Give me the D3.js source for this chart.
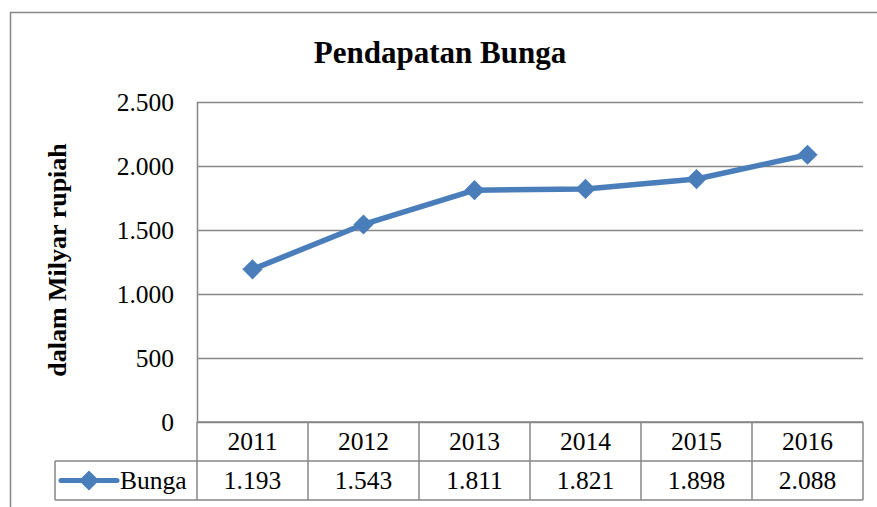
<!DOCTYPE html>
<html>
<head>
<meta charset="utf-8">
<script src="https://cdn.jsdelivr.net/npm/d3@7"></script>
<style>
  body { margin: 0; background: #fff; }
  text { font-family: "Liberation Serif", "Times New Roman", serif; fill: #000; }
</style>
</head>
<body>
<div id="chart"></div>
<script>
let width = 877;
let height = 507;

// data
let years = ["2011", "2012", "2013", "2014", "2015", "2016"];
let bunga = [1193, 1543, 1811, 1821, 1898, 2088];
let yTicks = [0, 500, 1000, 1500, 2000, 2500];
let seriesName = "Bunga";

let plot = {left: 197, right: 863, top: 102, bottom: 422};
let rowH = 39;
let lineColor = "#4a7ebb";
let gridColor = "#878787";

let fmt = d3.formatLocale({decimal: ",", thousands: ".", grouping: [3], currency: ["", ""]}).format(",");

let svg = d3.select("#chart").append("svg")
    .attr("width", width)
    .attr("height", height);

// outer chart frame (runs off right/bottom edge like the source)
svg.append("rect")
    .attr("x", 10.5).attr("y", 12.5)
    .attr("width", 900).attr("height", 520)
    .attr("fill", "none")
    .attr("stroke", gridColor)
    .attr("stroke-width", 1.5);

let x = d3.scaleBand()
    .domain(years)
    .range([plot.left, plot.right]);

let y = d3.scaleLinear()
    .domain([0, 2500])
    .range([plot.bottom, plot.top]);

// gridlines
svg.append("g")
    .selectAll("line")
    .data(yTicks)
    .join("line")
    .attr("x1", plot.left).attr("x2", plot.right)
    .attr("y1", d => Math.round(y(d)) + 0.5)
    .attr("y2", d => Math.round(y(d)) + 0.5)
    .attr("stroke", gridColor)
    .attr("stroke-width", 1.5);

// y axis line
svg.append("line")
    .attr("x1", plot.left + 0.5).attr("x2", plot.left + 0.5)
    .attr("y1", plot.top).attr("y2", plot.bottom)
    .attr("stroke", gridColor)
    .attr("stroke-width", 1.5);

// y tick labels
svg.append("g")
    .selectAll("text")
    .data(yTicks)
    .join("text")
    .attr("x", 174)
    .attr("y", d => y(d))
    .attr("dy", "0.35em")
    .attr("text-anchor", "end")
    .attr("font-size", 25.5)
    .text(d => fmt(d));

// title
svg.append("text")
    .attr("x", 440)
    .attr("y", 63)
    .attr("text-anchor", "middle")
    .attr("font-size", 31)
    .attr("font-weight", "bold")
    .text("Pendapatan Bunga");

// y axis title
svg.append("text")
    .attr("transform", "translate(66,260) rotate(-90)")
    .attr("text-anchor", "middle")
    .attr("font-size", 26)
    .attr("font-weight", "bold")
    .text("dalam Milyar rupiah");

// data table
let table = svg.append("g");
let tableLeft = 55;
let row1 = plot.bottom, row2 = plot.bottom + rowH, row3 = plot.bottom + 2 * rowH;

table.append("path")
    .attr("d", [
        `M${plot.left},${row1}H${plot.right}`,
        `M${tableLeft},${row2}H${plot.right}`,
        `M${tableLeft},${row3}H${plot.right}`,
        `M${tableLeft},${row2}V${row3}`,
        `M${plot.left},${row1}V${row3}`
    ].join(""))
    .attr("fill", "none")
    .attr("stroke", gridColor)
    .attr("stroke-width", 1.5);

table.selectAll(".col")
    .data(years)
    .join("line")
    .attr("class", "col")
    .attr("x1", d => x(d) + x.bandwidth())
    .attr("x2", d => x(d) + x.bandwidth())
    .attr("y1", row1).attr("y2", row3)
    .attr("stroke", gridColor)
    .attr("stroke-width", 1.5);

table.selectAll(".yr")
    .data(years)
    .join("text")
    .attr("class", "yr")
    .attr("x", d => x(d) + x.bandwidth() / 2)
    .attr("y", (row1 + row2) / 2)
    .attr("dy", "0.35em")
    .attr("text-anchor", "middle")
    .attr("font-size", 25.5)
    .text(d => d);

table.selectAll(".val")
    .data(bunga)
    .join("text")
    .attr("class", "val")
    .attr("x", (d, i) => x(years[i]) + x.bandwidth() / 2)
    .attr("y", (row2 + row3) / 2)
    .attr("dy", "0.35em")
    .attr("text-anchor", "middle")
    .attr("font-size", 25.5)
    .text(d => fmt(d));

// legend key in the table
let diamond = d3.symbol().type(d3.symbolDiamond2).size(260);
let keyY = (row2 + row3) / 2;
table.append("line")
    .attr("x1", 61).attr("x2", 117)
    .attr("y1", keyY).attr("y2", keyY)
    .attr("stroke", lineColor)
    .attr("stroke-width", 5)
    .attr("stroke-linecap", "round");
table.append("path")
    .attr("d", diamond)
    .attr("transform", `translate(89,${keyY})`)
    .attr("fill", lineColor);
table.append("text")
    .attr("x", 120)
    .attr("y", keyY)
    .attr("dy", "0.35em")
    .attr("font-size", 25.5)
    .text(seriesName);

// series line
let line = d3.line()
    .x((d, i) => x(years[i]) + x.bandwidth() / 2)
    .y(d => y(d));

svg.append("path")
    .datum(bunga)
    .attr("d", line)
    .attr("fill", "none")
    .attr("stroke", lineColor)
    .attr("stroke-width", 5.5)
    .attr("stroke-linejoin", "round")
    .attr("stroke-linecap", "round");

svg.append("g")
    .selectAll("path")
    .data(bunga)
    .join("path")
    .attr("d", diamond)
    .attr("transform", (d, i) => `translate(${x(years[i]) + x.bandwidth() / 2},${y(d)})`)
    .attr("fill", lineColor);
</script>
</body>
</html>
